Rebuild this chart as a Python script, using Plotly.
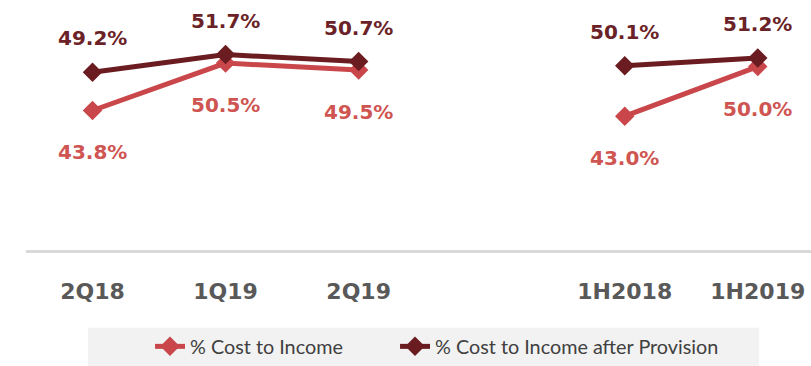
import plotly.graph_objects as go

# Category labels: quarterly periods, then half-year periods (a blank slot separates them)
quarter_labels = ["2Q18", "1Q19", "2Q19"]
half_labels = ["1H2018", "1H2019"]

# % Cost to Income
cost_income_q = [43.8, 50.5, 49.5]
cost_income_h = [43.0, 50.0]

# % Cost to Income after Provision
cost_income_prov_q = [49.2, 51.7, 50.7]
cost_income_prov_h = [50.1, 51.2]

# x positions: quarters at 0..2, gap at 3, halves at 4..5
x_pos = list(range(len(quarter_labels))) + [len(quarter_labels) + 1 + i for i in range(len(half_labels))]
x_line = list(range(len(quarter_labels))) + [len(quarter_labels)] + x_pos[len(quarter_labels):]
tick_text = quarter_labels + half_labels

ci_vals = cost_income_q + cost_income_h
cip_vals = cost_income_prov_q + cost_income_prov_h
ci_line = cost_income_q + [None] + cost_income_h
cip_line = cost_income_prov_q + [None] + cost_income_prov_h

LIGHT = "#c9474a"
DARK = "#6a1c20"
LIGHT_TXT = "#cf5552"
DARK_TXT = "#6b2227"

fig = go.Figure()
fig.add_trace(go.Scatter(
    x=x_line, y=ci_line, name="% Cost to Income", mode="lines+markers",
    connectgaps=False, legendwidth=200,
    line=dict(color=LIGHT, width=5),
    marker=dict(symbol="diamond", size=15, color=LIGHT),
    hoverinfo="skip",
))
fig.add_trace(go.Scatter(
    x=x_line, y=cip_line, name="% Cost to Income after Provision", mode="lines+markers",
    connectgaps=False,
    line=dict(color=DARK, width=5),
    marker=dict(symbol="diamond", size=15, color=DARK),
    hoverinfo="skip",
))

label_font = dict(family="DejaVu Sans", size=20, weight="bold")
annotations = []
for xv, v in zip(x_pos, ci_vals):
    annotations.append(dict(
        x=xv, y=v, xref="x", yref="y", text=f"{v:.1f}%", showarrow=False,
        yshift=-42, font=dict(label_font, color=LIGHT_TXT),
    ))
for xv, v in zip(x_pos, cip_vals):
    annotations.append(dict(
        x=xv, y=v, xref="x", yref="y", text=f"{v:.1f}%", showarrow=False,
        yshift=34, font=dict(label_font, color=DARK_TXT),
    ))

fig.update_layout(
    width=811, height=366,
    margin=dict(l=26, r=0, t=0, b=112),
    paper_bgcolor="white", plot_bgcolor="white",
    showlegend=True,
    legend=dict(
        orientation="h", x=0.158, xanchor="left", y=-0.386, yanchor="middle",
        bgcolor="rgba(0,0,0,0)",
        font=dict(family="Lato", size=19.8, color="#404040"),
    ),
    shapes=[dict(
        type="rect", xref="paper", yref="paper",
        x0=0.079, x1=0.934, y0=-0.5, y1=-0.311,
        fillcolor="#f2f2f2", line=dict(width=0), layer="below",
    )],
    annotations=annotations,
    xaxis=dict(
        range=[-0.5, 5.4], tickmode="array", tickvals=x_pos, ticktext=tick_text,
        showline=True, linecolor="#d9d9d9", linewidth=3,
        showgrid=False, zeroline=False, ticks="",
        ticklabelstandoff=20,
        tickfont=dict(family="DejaVu Sans", size=22, weight="bold", color="#595959"),
    ),
    yaxis=dict(
        range=[24.1, 59.4], visible=False, showgrid=False, zeroline=False,
    ),
)

fig.write_html("out.html", config={"displayModeBar": False})
